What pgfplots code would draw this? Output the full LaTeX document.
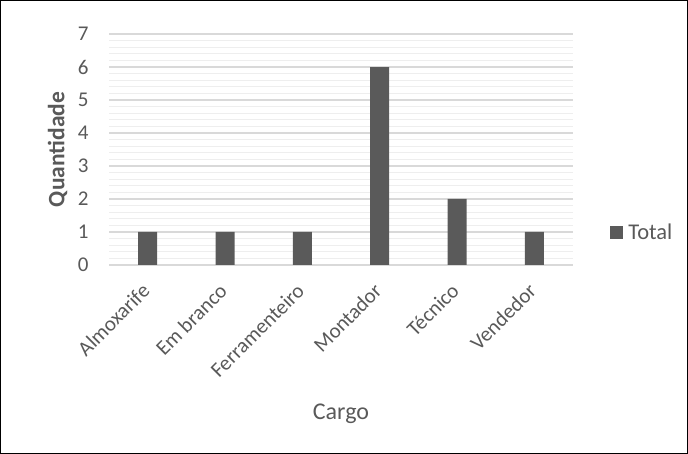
\documentclass[border=0pt]{standalone}
\usepackage{fontspec}
\setmainfont{Carlito}
\usepackage{pgfplots}
\pgfplotsset{compat=1.18}
\definecolor{txt}{HTML}{595959}
\definecolor{bar}{HTML}{5A5A5A}
\definecolor{major}{HTML}{D9D9D9}
\definecolor{minor}{HTML}{EEEEEE}
\begin{document}
\begin{tikzpicture}[x=1pt,y=1pt]
\draw[black, line width=1.2pt] (0.6,0.6) rectangle (687.4,453.4);
\begin{axis}[
  at={(109pt,189pt)}, anchor=south west,
  scale only axis, width=464pt, height=231pt,
  xmin=-0.5, xmax=5.5, ymin=0, ymax=7,
  xtick={0,...,5},
  xticklabels={Almoxarife,Em branco,Ferramenteiro,Montador,Técnico,Vendedor},
  ytick={0,...,7},
  minor y tick num=4,
  ymajorgrids, yminorgrids,
  major grid style={major, line width=1.3pt},
  minor grid style={minor, line width=1.3pt},
  axis lines*=left,
  y axis line style={draw=none},
  x axis line style={major, line width=1.3pt},
  major tick length=0pt, minor tick length=0pt,
  tick style={draw=none},
  /pgf/number format/assume math mode=true,
  ticklabel style={font=\fontsize{21}{25}\selectfont, text=txt},
  yticklabel style={anchor=east, xshift=-17pt},
  xticklabel style={xshift=-7pt, yshift=-17pt, rotate=45, anchor=north east, inner sep=0pt},
  xlabel={Cargo},
  ylabel={Quantidade},
  every axis x label/.style={at={(axis description cs:0.5,-0.645)}, anchor=center, font=\fontsize{24}{28}\selectfont, text=txt},
  every axis y label/.style={at={(axis description cs:-0.111,0.5)}, rotate=90, anchor=center, font=\fontsize{23.5}{28}\selectfont\bfseries, text=txt},
  legend style={at={(1.08,0.139)}, anchor=west, draw=none, fill=none, inner sep=0pt,
    font=\fontsize{22.5}{26}\selectfont, text=txt, column sep=3pt},
  legend image code/.code={\fill[bar] (0pt,-6.5pt) rectangle (13pt,6.5pt);},
  legend cell align=left,
  clip=false,
]
\addplot[ybar, bar width=19pt, fill=bar, draw=none, bar shift=0pt]
  coordinates {(0,1) (1,1) (2,1) (3,6) (4,2) (5,1)};
\addlegendentry{Total}
\end{axis}
\end{tikzpicture}
\end{document}
